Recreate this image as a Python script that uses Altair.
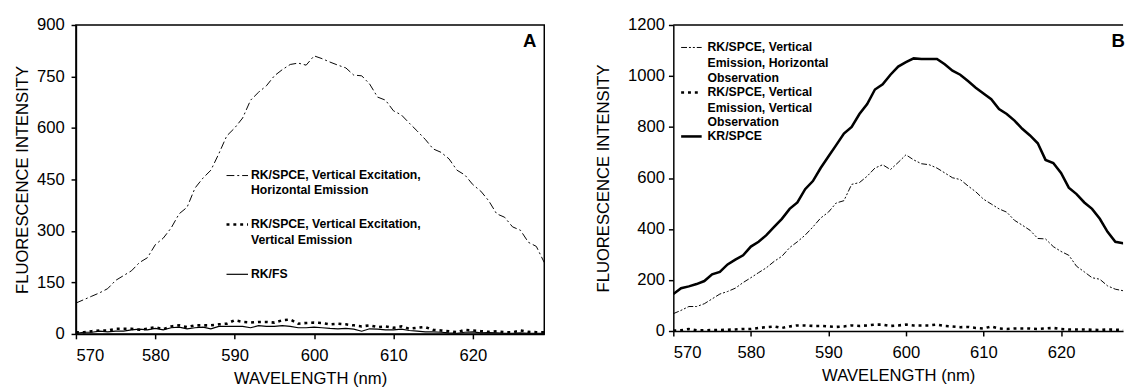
import altair as alt
import pandas as pd

# ---------------- data ----------------
wavelength = list(range(570, 630))  # 570 .. 629 nm

# Panel A
a_vh = [90, 100, 110, 120, 132, 156, 170, 184, 208, 222,
        260, 279, 309, 350, 369, 425, 454, 477, 525, 577,
        600, 629, 681, 704, 723, 752, 770, 785, 789, 783,
        810, 802, 792, 783, 775, 754, 752, 728, 690, 681,
        650, 638, 614, 591, 567, 539, 529, 510, 477, 463,
        435, 416, 388, 350, 340, 312, 302, 267, 255, 208]
a_vv = [5, 5, 8, 10, 10, 15, 15, 15, 12, 15,
        20, 14, 22, 25, 20, 25, 25, 25, 28, 30,
        40, 35, 33, 35, 35, 33, 40, 42, 30, 32,
        33, 32, 28, 30, 28, 25, 22, 25, 20, 22,
        18, 22, 15, 18, 20, 12, 10, 8, 5, 12,
        10, 8, 6, 8, 5, 5, 10, 6, 5, 5]
a_fs = [2, 5, 5, 8, 6, 8, 8, 12, 14, 12,
        16, 12, 18, 20, 15, 18, 20, 15, 22, 22,
        22, 22, 18, 24, 22, 22, 24, 22, 18, 18,
        20, 18, 16, 15, 16, 14, 8, 15, 14, 12,
        12, 14, 10, 8, 6, 6, 5, 3, 2, 5,
        6, 3, 4, 3, 2, 2, 3, 2, 2, 2]

# Panel B
b_vh = [68, 81, 96, 96, 107, 126, 145, 155, 168, 190,
        209, 229, 248, 273, 293, 327, 350, 376, 408, 443,
        466, 502, 511, 575, 582, 607, 639, 652, 633, 661,
        691, 671, 656, 652, 639, 620, 601, 594, 569, 546,
        517, 498, 479, 466, 434, 415, 395, 363, 361, 331,
        312, 297, 254, 232, 209, 203, 177, 164, 158, 150]
b_vv = [2, 3, 8, 3, 3, 4, 4, 5, 6, 8,
        8, 12, 15, 18, 12, 18, 22, 22, 20, 20,
        18, 16, 18, 22, 20, 22, 25, 25, 20, 22,
        25, 22, 22, 22, 25, 20, 18, 15, 16, 12,
        10, 18, 10, 8, 10, 10, 10, 8, 10, 12,
        8, 6, 6, 6, 5, 4, 6, 5, 4, 4]
b_kr = [145, 168, 175, 184, 196, 222, 232, 261, 280, 297,
        331, 350, 376, 408, 440, 479, 504, 556, 588, 639,
        684, 729, 774, 800, 851, 890, 947, 967, 1005, 1037,
        1054, 1069, 1067, 1067, 1067, 1046, 1021, 1005, 980, 954,
        931, 909, 870, 851, 825, 793, 767, 736, 671, 659,
        620, 562, 537, 504, 479, 440, 389, 350, 344, 340]

x_ticks = [570, 580, 590, 600, 610, 620]
a_y_ticks = [0, 150, 300, 450, 600, 750, 900]
b_y_ticks = [0, 200, 400, 600, 800, 1000, 1200]

FONT = "Liberation Sans"
DASH_DOT = [8, 3, 2, 3]
DASH_DOT_DOT = [6, 2, 2, 2, 2, 2]
DOTS = [3, 4]

one = pd.DataFrame({"k": [0]})


def series_line(values, x_scale, y_scale, x_axis, y_axis, dash, width):
    df = pd.DataFrame({"wl": wavelength, "val": values})
    kw = dict(color="black", strokeWidth=width, clip=True)
    if dash:
        kw["strokeDash"] = dash
    return alt.Chart(df).mark_line(**kw).encode(
        x=alt.X("wl:Q", scale=x_scale, axis=x_axis),
        y=alt.Y("val:Q", scale=y_scale, axis=y_axis),
    )


def txt(x, y, s, size=12.5, weight="bold", align="left"):
    return alt.Chart(one).mark_text(
        font=FONT, fontSize=size, fontWeight=weight, align=align,
        baseline="middle", color="black"
    ).encode(x=alt.value(x), y=alt.value(y), text=alt.value(s))


def sym(x1, x2, y, dash, width):
    kw = dict(color="black", strokeWidth=width)
    if dash:
        kw["strokeDash"] = dash
    return alt.Chart(one).mark_rule(**kw).encode(
        x=alt.value(x1), x2=alt.value(x2), y=alt.value(y))


def x_axis():
    return alt.Axis(values=x_ticks, format="d", title="WAVELENGTH (nm)",
                    tickSize=5, labelPadding=9, titlePadding=8)


# ---------------- panel A ----------------
A_W, A_H = 479, 316
a_x = alt.Scale(domain=[570, 629], nice=False, zero=False)
a_y = alt.Scale(domain=[0, 900], nice=False)
a_xax = x_axis()
a_yax = alt.Axis(values=a_y_ticks, format="d", title="FLUORESCENCE INTENSITY",
                 tickSize=5, labelPadding=7, titlePadding=5.5)

a_layers = [
    series_line(a_vh, a_x, a_y, a_xax, a_yax, DASH_DOT, 1),
    series_line(a_vv, a_x, a_y, a_xax, a_yax, DOTS, 2.6),
    series_line(a_fs, a_x, a_y, a_xax, a_yax, None, 1.2),
    sym(154, 176, 154, DASH_DOT, 1),
    txt(179, 154, "RK/SPCE, Vertical Excitation,"),
    txt(179, 169, "Horizontal Emission"),
    sym(154, 176, 204, DOTS, 2.6),
    txt(179, 204, "RK/SPCE, Vertical Excitation,"),
    txt(179, 220, "Vertical Emission"),
    sym(154, 176, 255, None, 1.2),
    txt(179, 255, "RK/FS"),
    txt(464, 16, "A", size=19, weight="bold", align="center"),
]

panel_a = alt.layer(*a_layers).properties(
    width=A_W, height=A_H,
    view=alt.ViewBackground(stroke="black", strokeWidth=1.5),
)

# ---------------- panel B ----------------
B_W, B_H = 460, 313
b_x = alt.Scale(domain=[570, 628], nice=False, zero=False)
b_y = alt.Scale(domain=[0, 1200], nice=False)
b_xax = x_axis()
b_yax = alt.Axis(values=b_y_ticks, format="d", title="FLUORESCENCE INTENSITY",
                 tickSize=5, labelPadding=4, titlePadding=15)

b_layers = [
    series_line(b_vh, b_x, b_y, b_xax, b_yax, DASH_DOT_DOT, 1),
    series_line(b_vv, b_x, b_y, b_xax, b_yax, DOTS, 2.6),
    series_line(b_kr, b_x, b_y, b_xax, b_yax, None, 2.6),
    alt.Chart(one).mark_rule(color="black", strokeWidth=1.5).encode(
        x=alt.value(0), x2=alt.value(B_W), y=alt.value(0)),
    sym(8, 29, 23, DASH_DOT_DOT, 1),
    txt(35, 23, "RK/SPCE, Vertical", size=12.5),
    txt(35, 39, "Emission, Horizontal", size=12.5),
    txt(35, 54, "Observation", size=12.5),
    sym(8, 29, 69, DOTS, 2.6),
    txt(35, 69, "RK/SPCE, Vertical", size=12.5),
    txt(35, 85, "Emission, Vertical", size=12.5),
    txt(35, 99.5, "Observation", size=12.5),
    sym(8, 29, 114, None, 2.6),
    txt(35, 114, "KR/SPCE", size=12.5),
    txt(455, 16, "B", size=19, weight="bold", align="center"),
]

panel_b = alt.layer(*b_layers).properties(
    width=B_W, height=B_H,
    view=alt.ViewBackground(stroke="transparent"),
)

chart = alt.hconcat(panel_a, panel_b, spacing=50).resolve_scale(
    x="independent", y="independent"
).properties(
    padding={"left": 4.5, "top": 3, "right": 0, "bottom": 0},
).configure_axis(
    domainColor="black", domainWidth=1.5, tickColor="black", tickWidth=1.5,
    labelColor="black", titleColor="black", grid=False,
    labelFont=FONT, titleFont=FONT, labelFontSize=17, titleFontSize=17,
    titleFontWeight="normal",
).configure_view(stroke="black")

chart.save("out.html", embed_options={"renderer": "svg", "actions": False})
